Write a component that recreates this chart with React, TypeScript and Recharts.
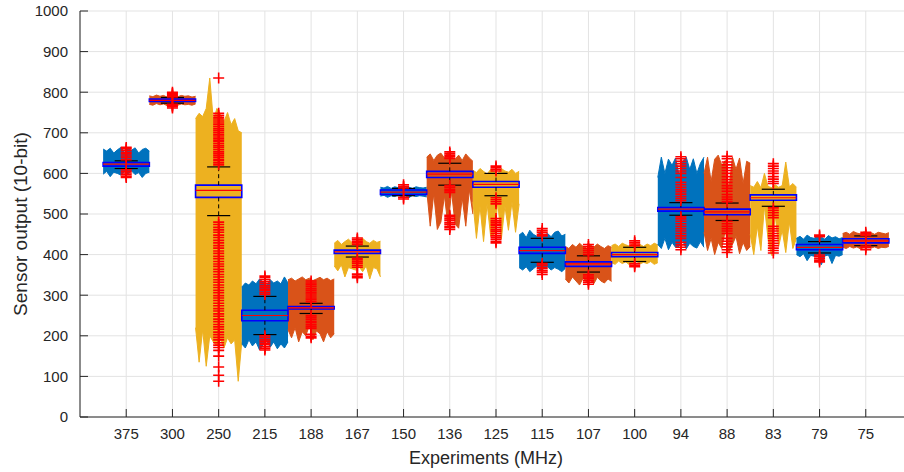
import {
  Area,
  CartesianGrid,
  ComposedChart,
  ReferenceArea,
  ReferenceLine,
  Scatter,
  XAxis,
  YAxis,
} from "recharts"

// experiment clock frequencies (MHz), left to right
const EXPERIMENTS = ["375", "300", "250", "215", "188", "167", "150", "136", "125", "115", "107", "100", "94", "88", "83", "79", "75"]

const PALETTE = ["#0072BD", "#D95319", "#EDB120"]

// box plot statistics per experiment
const Q1 = [618, 777, 541, 237, 266, 403, 548, 590, 566, 403, 371, 395, 507, 498, 534, 412, 429]
const MEDIAN = [623, 780, 558, 250, 269, 407, 554, 598, 573, 410, 377, 400, 512, 505, 540, 418, 434]
const Q3 = [627, 783, 571, 263, 272, 411, 559, 605, 580, 418, 382, 405, 516, 512, 547, 425, 439]
const WHISK_LO = [612, 773, 496, 203, 255, 394, 545, 571, 545, 381, 357, 383, 497, 484, 519, 404, 422]
const WHISK_HI = [631, 787, 616, 297, 280, 421, 563, 625, 600, 440, 397, 418, 528, 527, 561, 432, 446]

// raw signal envelope (upper / lower edge) sampled across each experiment
const SIGNAL_HI = [
  [660, 655, 662, 650, 658, 664, 652, 660, 657, 663, 650, 659, 662, 655],
  [791, 789, 793, 790, 792, 788, 791, 793, 789, 792, 790, 791, 788, 790],
  [735, 748, 740, 760, 835, 730, 760, 745, 728, 750, 720, 735, 705, 700],
  [320, 330, 325, 335, 328, 340, 332, 325, 338, 330, 335, 328, 345, 330],
  [338, 342, 335, 340, 345, 338, 342, 336, 340, 344, 338, 342, 336, 340],
  [428, 435, 425, 432, 438, 430, 427, 436, 440, 432, 428, 435, 430, 433],
  [566, 564, 568, 563, 567, 565, 569, 564, 566, 563, 567, 565, 564, 566],
  [640, 648, 632, 645, 650, 638, 652, 640, 635, 645, 632, 648, 638, 630],
  [608, 602, 612, 605, 598, 610, 604, 600, 612, 606, 603, 610, 600, 605],
  [448, 455, 442, 460, 450, 445, 457, 448, 452, 444, 455, 458, 446, 450],
  [420, 415, 425, 418, 428, 420, 416, 424, 418, 426, 420, 415, 422, 418],
  [422, 426, 420, 428, 424, 421, 427, 423, 425, 420, 426, 422, 428, 424],
  [590, 640, 600, 635, 620, 638, 595, 630, 640, 610, 636, 600, 625, 640],
  [600, 640, 580, 635, 645, 620, 632, 560, 640, 610, 638, 575, 630, 625],
  [570, 566, 580, 565, 600, 568, 565, 572, 566, 570, 628, 567, 575, 566],
  [440, 445, 438, 448, 442, 440, 446, 443, 438, 447, 441, 444, 439, 442],
  [452, 455, 450, 457, 453, 451, 456, 452, 454, 450, 455, 453, 451, 454],
]
const SIGNAL_LO = [
  [598, 605, 592, 603, 600, 596, 604, 599, 606, 597, 602, 590, 600, 603],
  [770, 768, 772, 769, 771, 767, 770, 772, 768, 771, 769, 770, 768, 771],
  [220, 135, 215, 125, 200, 185, 175, 190, 170, 195, 180, 190, 88, 185],
  [180, 170, 190, 175, 185, 165, 178, 188, 172, 185, 168, 180, 170, 185],
  [215, 195, 220, 185, 210, 200, 225, 190, 212, 205, 185, 210, 195, 205],
  [372, 360, 375, 345, 368, 365, 362, 370, 358, 372, 340, 368, 365, 345],
  [544, 546, 541, 545, 543, 547, 542, 545, 540, 546, 543, 545, 544, 542],
  [560, 470, 550, 462, 480, 545, 470, 555, 475, 465, 540, 470, 560, 500],
  [530, 440, 520, 432, 525, 445, 450, 528, 438, 520, 460, 530, 455, 525],
  [368, 362, 370, 358, 365, 372, 360, 366, 370, 362, 368, 364, 358, 366],
  [340, 330, 345, 335, 325, 342, 332, 338, 328, 344, 335, 330, 340, 334],
  [380, 376, 384, 378, 382, 375, 380, 384, 377, 381, 378, 383, 376, 380],
  [425, 415, 440, 412, 430, 418, 420, 435, 414, 428, 420, 416, 432, 418],
  [455, 410, 440, 400, 430, 415, 460, 405, 425, 445, 402, 430, 410, 420],
  [450, 400, 470, 410, 520, 440, 398, 500, 420, 460, 405, 480, 415, 440],
  [400, 395, 402, 385, 398, 396, 400, 375, 397, 399, 378, 398, 396, 400],
  [418, 415, 420, 416, 419, 414, 418, 420, 416, 419, 415, 418, 417, 420],
]

// outliers ('+' markers)
const OUTLIERS = [
  [634, 639, 643, 648, 652, 657, 661, 664, 609, 605, 601, 597, 593, 590],
  [788, 791, 794, 797, 800, 770, 767, 764, 761],
  [621, 626, 631, 635, 640, 645, 650, 654, 659, 664, 668, 673, 678, 682, 687, 692, 696, 701, 706, 710, 715, 720, 724, 729, 734, 738, 743, 748, 835,
    480, 474, 467, 461, 455, 448, 442, 435, 429, 422, 416, 409, 403, 396, 390, 383, 377, 371, 364, 358, 351, 345, 338, 332, 325, 319, 312, 306, 299, 293,
    287, 280, 274, 267, 261, 254, 248, 241, 235, 228, 222, 216, 209, 203, 196, 190, 183, 177, 171, 164, 150, 123, 103, 88],
  [302, 306, 311, 315, 320, 324, 329, 333, 338, 343, 347, 200, 196, 191, 187, 182, 178, 173, 169, 165],
  [284, 289, 293, 298, 303, 307, 312, 316, 321, 326, 330, 335, 250, 246, 241, 236, 232, 227, 222, 218, 204, 199, 195],
  [425, 429, 433, 437, 441, 391, 387, 382, 378, 373, 369, 352, 347, 343],
  [564, 568, 572, 541, 537],
  [637, 641, 645, 649, 653, 570, 566, 561, 557, 553, 497, 493, 488, 484, 479, 475, 470, 466, 462],
  [606, 610, 614, 618, 540, 535, 530, 525, 489, 484, 480, 475, 471, 466, 461, 457, 452, 447, 443, 438, 433, 429],
  [446, 450, 455, 459, 464, 378, 374, 369, 365, 360, 356, 351],
  [400, 405, 410, 415, 420, 425, 350, 345, 341, 336, 332, 327],
  [422, 426, 430, 434, 378, 374, 370],
  [533, 538, 543, 549, 555, 560, 566, 572, 578, 590, 600, 606, 612, 618, 624, 630, 636, 641,
    493, 488, 482, 476, 470, 464, 458, 452, 446, 440, 430, 424, 418, 412],
  [530, 536, 542, 548, 556, 563, 570, 578, 585, 592, 600, 607, 614, 621, 628, 636, 642,
    482, 476, 470, 464, 458, 452, 440, 433, 426, 419, 412, 405],
  [575, 580, 586, 592, 600, 606, 612, 618, 624, 515, 509, 503, 497, 491, 470, 464, 458, 452, 446, 440, 434, 428, 422, 416, 410, 404],
  [444, 448, 399, 395, 390, 386, 382],
  [447, 451, 455, 421, 417, 412],
]

const Y_TICKS = [0, 100, 200, 300, 400, 500, 600, 700, 800, 900, 1000]
const X_TICKS = EXPERIMENTS.map((_, i) => i + 1)

const AXIS = "#262626"
const FONT = "'Liberation Sans', Arial, Helvetica, sans-serif"

const signalRows = EXPERIMENTS.flatMap((_, i) => {
  const n = SIGNAL_HI[i].length
  return SIGNAL_HI[i].map((hi, k) => ({
    x: i + 0.5 + k / (n - 1),
    [`s${i}`]: [SIGNAL_LO[i][k], hi],
  }))
})

const outlierPts = EXPERIMENTS.flatMap((_, i) => OUTLIERS[i].map(y => ({ x: i + 1, y })))

function Plus(props: any) {
  const { cx, cy } = props
  if (cx == null || cy == null) return null
  return (
    <path
      d={`M${cx - 5.5},${cy}H${cx + 5.5}M${cx},${cy - 5.5}V${cy + 5.5}`}
      stroke="#ff0000"
      strokeWidth={1.6}
      fill="none"
    />
  )
}

export default function App() {
  return (
    <div style={{ position: "fixed", left: 0, top: 0, width: 904, height: 472, overflow: "hidden", background: "#fff", fontFamily: FONT }}>
      <ComposedChart width={912} height={472} data={signalRows} margin={{ top: 11, right: 0, bottom: 5, left: 0 }}>
        <CartesianGrid stroke="#e3e3e3" strokeWidth={1} />
        <XAxis
          dataKey="x"
          type="number"
          domain={[0, 18]}
          ticks={X_TICKS}
          interval={0}
          tickFormatter={v => EXPERIMENTS[(v as number) - 1] ?? ""}
          stroke={AXIS}
          tick={{ fill: AXIS, fontSize: 15, fontFamily: FONT }}
          tickSize={-8}
          tickMargin={19}
          height={50}
          allowDataOverflow
          label={{ value: "Experiments (MHz)", position: "insideBottom", offset: 3, dx: -10, fill: AXIS, fontSize: 18, fontFamily: FONT }}
        />
        <YAxis
          type="number"
          domain={[0, 1000]}
          ticks={Y_TICKS}
          interval={0}
          stroke={AXIS}
          tick={{ fill: AXIS, fontSize: 15, fontFamily: FONT }}
          tickSize={-8}
          tickMargin={20}
          width={80}
          label={{ value: "Sensor output (10-bit)", angle: -90, position: "insideLeft", offset: 20, dy: 10, fill: AXIS, fontSize: 19, fontFamily: FONT, style: { textAnchor: "middle" } }}
        />

        {EXPERIMENTS.map((_, i) => (
          <Area
            key={`s${i}`}
            dataKey={`s${i}`}
            type="linear"
            stroke={PALETTE[i % 3]}
            strokeWidth={1}
            fill={PALETTE[i % 3]}
            fillOpacity={1}
            dot={false}
            activeDot={false}
            isAnimationActive={false}
          />
        ))}

        {EXPERIMENTS.map((_, i) => (
          <ReferenceLine key={`wu${i}`} segment={[{ x: i + 1, y: Q3[i] }, { x: i + 1, y: WHISK_HI[i] }]} stroke="#000" strokeDasharray="4 3" />
        ))}
        {EXPERIMENTS.map((_, i) => (
          <ReferenceLine key={`wl${i}`} segment={[{ x: i + 1, y: Q1[i] }, { x: i + 1, y: WHISK_LO[i] }]} stroke="#000" strokeDasharray="4 3" />
        ))}
        {EXPERIMENTS.map((_, i) => (
          <ReferenceLine key={`cu${i}`} segment={[{ x: i + 0.75, y: WHISK_HI[i] }, { x: i + 1.25, y: WHISK_HI[i] }]} stroke="#000" strokeWidth={1.2} />
        ))}
        {EXPERIMENTS.map((_, i) => (
          <ReferenceLine key={`cl${i}`} segment={[{ x: i + 0.75, y: WHISK_LO[i] }, { x: i + 1.25, y: WHISK_LO[i] }]} stroke="#000" strokeWidth={1.2} />
        ))}
        {EXPERIMENTS.map((_, i) => (
          <ReferenceArea
            key={`b${i}`}
            x1={i + 0.5}
            x2={i + 1.5}
            y1={Q1[i]}
            y2={Q3[i]}
            fill="none"
            fillOpacity={0}
            stroke="#0000ff"
            strokeWidth={1.6}
          />
        ))}
        {EXPERIMENTS.map((_, i) => (
          <ReferenceLine key={`m${i}`} segment={[{ x: i + 0.5, y: MEDIAN[i] }, { x: i + 1.5, y: MEDIAN[i] }]} stroke="#ff0000" strokeWidth={1.2} />
        ))}

        <Scatter data={outlierPts} dataKey="y" shape={Plus} isAnimationActive={false} />
      </ComposedChart>
    </div>
  )
}
